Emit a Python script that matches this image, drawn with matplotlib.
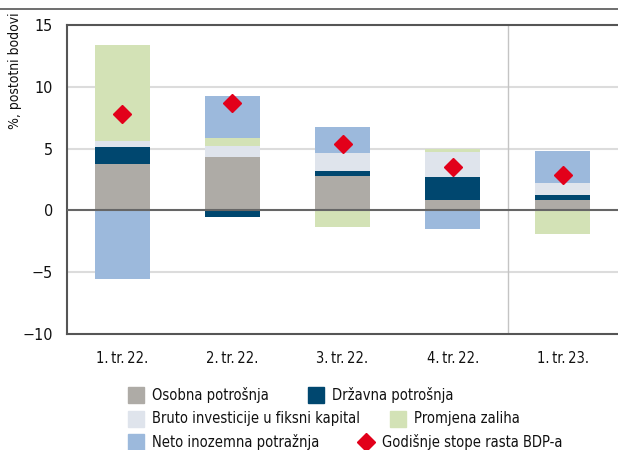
import numpy as np
import matplotlib.pyplot as plt
from matplotlib.patches import Rectangle
from matplotlib.lines import Line2D

plt.rcParams['font.family'] = ['DejaVu Sans']
plt.rcParams['font.stretch'] = 'condensed'

# podaci
kvartali = ['1.\u202ftr.\u202f22.', '2.\u202ftr.\u202f22.', '3.\u202ftr.\u202f22.',
            '4.\u202ftr.\u202f22.', '1.\u202ftr.\u202f23.']
osobna = [3.78, 4.34, 2.80, 0.81, 0.81]
drzavna = [1.32, -0.54, 0.35, 1.86, 0.46]
investicije = [0.52, 0.84, 1.46, 2.02, 0.91]
zalihe = [7.77, 0.65, -1.35, 0.27, -1.89]
neto_inozemna = [-5.56, 3.45, 2.10, -1.48, 2.59]
bdp = [7.8, 8.7, 5.34, 3.5, 2.86]

nazivi = ['Osobna potrošnja', 'Državna potrošnja', 'Bruto investicije u fiksni kapital',
          'Promjena zaliha', 'Neto inozemna potražnja']
boje = ['#aeaba6', '#00476f', '#dfe4ec', '#d3e2b6', '#9cb9dc']
crvena = '#e2001a'

fig = plt.figure(figsize=(6.18, 4.5), dpi=100)
ax = fig.add_axes([67/618, 116/450, 551/618, 309/450])

x = np.arange(len(kvartali))
serije = [osobna, drzavna, investicije, zalihe, neto_inozemna]
poz = np.zeros(len(x))
neg = np.zeros(len(x))
for s, c, n in zip(serije, boje, nazivi):
    s = np.array(s)
    dno = np.where(s >= 0, poz, neg)
    ax.bar(x, s, 0.5, bottom=dno, color=c, label=n, zorder=3)
    poz = poz + np.where(s >= 0, s, 0)
    neg = neg + np.where(s < 0, s, 0)

ax.plot(x, bdp, 'D', color=crvena, markersize=9, zorder=5)

ax.set_xlim(-0.5, 4.5)
ax.set_ylim(-10, 15)
ax.set_yticks([-10, -5, 0, 5, 10, 15])
ax.set_yticklabels(['\u221210', '\u22125', '0', '5', '10', '15'])
ax.set_xticks(x)
ax.set_xticklabels(kvartali)
ax.tick_params(length=0, colors='#111111')
ax.tick_params(axis='y', pad=10, labelsize=11.5)
ax.tick_params(axis='x', pad=12, labelsize=10.5)

for v in [-5, 5, 10]:
    ax.axhline(v, color='#dcdcdc', lw=1.5, zorder=1)
ax.axhline(0, color='#666666', lw=1.5, zorder=4)
ax.axvline(3.5, color='#c4c4c4', lw=1, zorder=1)

for k in ['left', 'top', 'bottom']:
    ax.spines[k].set_color('#555555')
    ax.spines[k].set_linewidth(1.5)
ax.spines['right'].set_visible(False)

fig.text(15/618, 1 - 12/450, '%, postotni bodovi', rotation=90, va='top', ha='center',
         fontsize=10, color='#111111')
fig.add_artist(Line2D([0, 1], [1 - 9/450, 1 - 9/450], color='#555555', lw=1.2))

# legenda
W, H = 618, 450
stavke = [
    (128, 395, 'sq', boje[0], nazivi[0]), (308, 395, 'sq', boje[1], nazivi[1]),
    (128, 419, 'sq', boje[2], nazivi[2]), (390, 419, 'sq', boje[3], nazivi[3]),
    (128, 442, 'sq', boje[4], nazivi[4]), (358, 442, 'D', crvena, 'Godišnje stope rasta BDP-a'),
]
for px, py, tip, c, n in stavke:
    if tip == 'sq':
        fig.add_artist(Rectangle((px/W, 1 - (py + 8)/H), 16/W, 16/H, color=c,
                                 transform=fig.transFigure))
    else:
        fig.add_artist(Line2D([(px + 8)/W], [1 - py/H], marker='D', color=c,
                              markersize=9, linestyle='none'))
    fig.text((px + 24)/W, 1 - py/H, n, va='center', ha='left', fontsize=10.5, color='#111111')

fig.savefig('out.png', dpi=100)
